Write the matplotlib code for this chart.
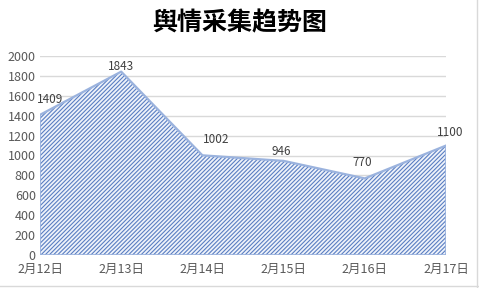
import numpy as np
import matplotlib.pyplot as plt
import matplotlib as mpl
from matplotlib.lines import Line2D

plt.rcParams['font.family'] = ['Noto Sans CJK SC', 'DejaVu Sans']
mpl.rcParams['hatch.linewidth'] = 0.8

dates = ['2月12日', '2月13日', '2月14日', '2月15日', '2月16日', '2月17日']
counts = [1409, 1843, 1002, 946, 770, 1100]
yticks = [0, 200, 400, 600, 800, 1000, 1200, 1400, 1600, 1800, 2000]
title = '舆情采集趋势图'

fig = plt.figure(figsize=(4.79, 2.88), dpi=100)
ax = fig.add_axes([40 / 479, 33 / 288, 406 / 479, 199 / 288])

x = np.arange(len(dates))
ax.fill_between(x, 0, counts, facecolor='#eef2fa', edgecolor='#5a7ec2',
                hatch='////////', linewidth=0, zorder=2)
ax.plot(x, counts, color='#9bb3de', lw=1.6, zorder=3)
ax.plot([x[0], x[0]], [0, counts[0]], color='#9bb3de', lw=1.2, zorder=3)
ax.plot([x[-1], x[-1]], [0, counts[-1]], color='#9bb3de', lw=1.2, zorder=3)
ax.plot([x[0], x[-1]], [0, 0], color='#9bb3de', lw=1.2, zorder=3)

ax.set_xlim(x[0], x[-1])
ax.set_ylim(0, 2000)
ax.set_yticks(yticks)
ax.set_xticks(x)
ax.set_xticklabels(dates)
ax.grid(axis='y', color='#d9d9d9', lw=1, zorder=0)
ax.tick_params(length=0, labelsize=9, labelcolor='#595959')
ax.tick_params(axis='x', pad=6)
ax.tick_params(axis='y', pad=3)
for s in ax.spines.values():
    s.set_visible(False)

# data labels (offsets in points)
offsets = [(7, 6), (0, -1), (10, 7), (-2, 2), (-2, 7), (3, 5)]
for xi, v, (dx, dy) in zip(x, counts, offsets):
    ax.annotate(str(v), (xi, v), xytext=(dx, dy), textcoords='offset points',
                ha='center', va='bottom', fontsize=8.5, color='#404040',
                zorder=4)

fig.text(0.5, 0.92, title, ha='center', va='center', fontsize=18,
         fontweight='bold', color='black')

# chart border remnants
fig.add_artist(Line2D([0, 1], [2 / 288, 2 / 288], transform=fig.transFigure,
                      color='#d9d9d9', lw=1))
fig.add_artist(Line2D([477 / 479, 477 / 479], [0, 1], transform=fig.transFigure,
                      color='#d9d9d9', lw=1))

fig.savefig('out.png', dpi=100)
